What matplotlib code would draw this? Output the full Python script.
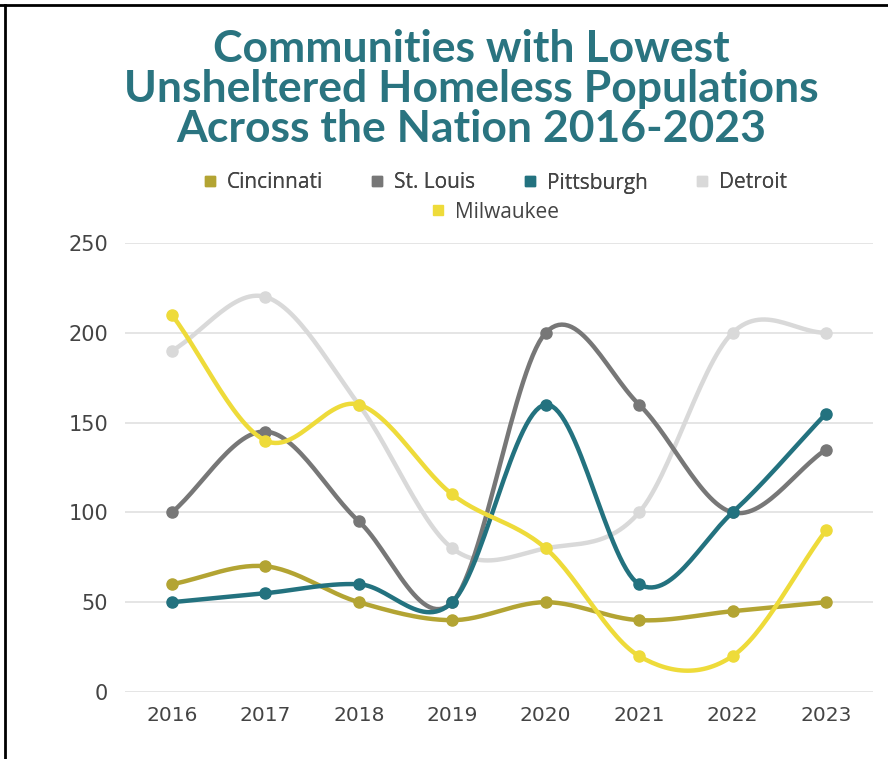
import numpy as np
import matplotlib
matplotlib.use("Agg")
import matplotlib.pyplot as plt
from matplotlib.lines import Line2D

years = [2016, 2017, 2018, 2019, 2020, 2021, 2022, 2023]
cities = ["Cincinnati", "St. Louis", "Pittsburgh", "Detroit", "Milwaukee"]
cincinnati = [60, 70, 50, 40, 50, 40, 45, 50]
st_louis = [100, 145, 95, 50, 200, 160, 100, 135]
pittsburgh = [50, 55, 60, 50, 160, 60, 100, 155]
detroit = [190, 220, 160, 80, 80, 100, 200, 200]
milwaukee = [210, 140, 160, 110, 80, 20, 20, 90]
colors = ["#B3A433", "#777777", "#23727F", "#D9D9D9", "#EEDB3A"]
yticks = [0, 50, 100, 150, 200, 250]


def smooth(x, y, n=30):
    # catmull-rom curve through the points (just for drawing)
    x = np.asarray(x, float)
    y = np.asarray(y, float)
    px = np.concatenate([[2 * x[0] - x[1]], x, [2 * x[-1] - x[-2]]])
    py = np.concatenate([[2 * y[0] - y[1]], y, [2 * y[-1] - y[-2]]])
    xs, ys = [], []
    t = np.linspace(0, 1, n)
    for i in range(1, len(px) - 2):
        for p, out in ((px, xs), (py, ys)):
            p0, p1, p2, p3 = p[i - 1], p[i], p[i + 1], p[i + 2]
            out.append(0.5 * (2 * p1 + (-p0 + p2) * t
                              + (2 * p0 - 5 * p1 + 4 * p2 - p3) * t ** 2
                              + (-p0 + 3 * p1 - 3 * p2 + p3) * t ** 3))
    return np.concatenate(xs), np.concatenate(ys)


fig = plt.figure(figsize=(8.88, 7.59), dpi=100)
ax = fig.add_axes([125 / 888, 1 - 692 / 759, (873 - 125) / 888, (692 - 243) / 759])

series = [cincinnati, st_louis, pittsburgh, detroit, milwaukee]
zorders = [3, 4, 5, 2, 6]
for vals, c, z in zip(series, colors, zorders):
    sx, sy = smooth(years, vals)
    ax.plot(sx, sy, color=c, lw=3.2, zorder=z, solid_capstyle="round")
    ax.plot(years, vals, "o", color=c, ms=8, zorder=z)

ax.set_ylim(0, 250)
ax.set_xlim(2016 - 47 / 93.4, 2023 + 47 / 93.4)
ax.set_yticks(yticks)
ax.set_xticks(years)
ax.grid(axis="y", color="#E3E3E3", lw=1.3)
ax.set_axisbelow(True)
for s in ax.spines.values():
    s.set_visible(False)
ax.tick_params(axis="y", length=0, labelsize=15, labelcolor="#444444", pad=12)
ax.tick_params(axis="x", length=0, labelsize=14.5, labelcolor="#444444", pad=10)

fig.text(471 / 888, 1 - 89 / 759, "Communities with Lowest\nUnsheltered Homeless Populations\nAcross the Nation 2016-2023",
         ha="center", va="center", fontsize=32, fontweight="bold", color="#2A7480",
         family="Lato", linespacing=0.99)

handles = [Line2D([], [], marker="s", ls="", color=c, ms=7.5) for c in colors]
leg_kw = dict(frameon=False, prop={"family": "Open Sans", "size": 15}, handletextpad=0.42,
              columnspacing=2.2, handlelength=0.8, labelcolor="#444444", borderpad=0)
leg1 = fig.legend(handles[:4], cities[:4], loc="center", ncol=4,
                  bbox_to_anchor=(494 / 888, 1 - 183 / 759), **leg_kw)
fig.legend(handles[4:], cities[4:], loc="center", bbox_to_anchor=(494 / 888, 1 - 212 / 759), **leg_kw)
fig.add_artist(leg1)

# frame lines at top and left
fig.add_artist(Line2D([0, 1], [1 - 5 / 759, 1 - 5 / 759], color="black", lw=2))
fig.add_artist(Line2D([5 / 888, 5 / 888], [0, 1 - 5 / 759], color="black", lw=2))

fig.savefig("out.png", dpi=100)
